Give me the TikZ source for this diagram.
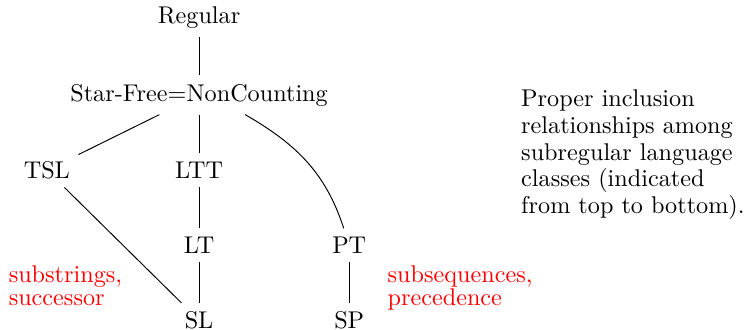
\documentclass[tikz,border=0pt]{standalone}
\begin{document}
\begin{tikzpicture}
  \useasboundingbox (0,0) rectangle (10.83,4.79);

  \node (reg) at (2.89,4.53) {Regular};
  \node (sf)  at (2.89,3.41) {Star-Free=NonCounting};
  \node (tsl) at (0.68,2.32) {TSL};
  \node (ltt) at (2.89,2.32) {LTT};
  \node (lt)  at (2.89,1.23) {LT};
  \node (pt)  at (5.07,1.23) {PT};
  \node (sl)  at (2.89,0.14) {SL};
  \node (sp)  at (5.07,0.14) {SP};

  \draw (reg) -- (sf);
  \draw (sf) -- (tsl);
  \draw (sf) -- (ltt);
  \draw (sf.-23) to[out=-30,in=108] (pt);
  \draw (ltt) -- (lt);
  \draw (lt) -- (sl);
  \draw (tsl) -- (sl);
  \draw (pt) -- (sp);

 % Randbemerkungen
 \node[red, align=left, anchor=base west, inner sep=0pt,
   font=\fontsize{10}{9.6}\selectfont] (subs) at (0.12,0.35)
   {substrings,\\ successor};
 \node[red, align=left, anchor=base west, inner sep=0pt,
   font=\fontsize{10}{9.6}\selectfont] (subq) at (5.62,0.35)
   {subsequences,\\ precedence};
 \node[align=left, anchor=north west, inner sep=0pt,
   font=\fontsize{10}{11}\selectfont] (cap) at (7.56,3.49)
   {Proper inclusion\\ relationships among\\ subregular language\\
    classes (indicated\\ from top to bottom).};

\end{tikzpicture}
\end{document}
